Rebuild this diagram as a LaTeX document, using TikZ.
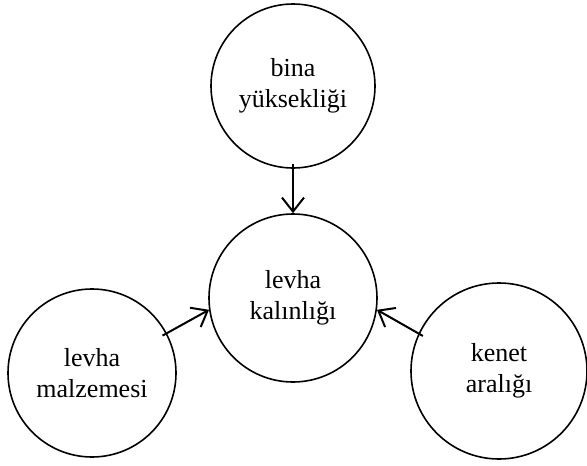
\documentclass[tikz,border=0pt]{standalone}
\usepackage{fontspec}
\setmainfont{Liberation Serif}
\usetikzlibrary{arrows.meta, positioning}

\tikzset{
  blob/.style={draw, circle, line width=1.6pt, inner sep=0pt, align=center,
    font=\fontsize{26}{31}\selectfont},
  link/.style={-{Straight Barb[length=14pt, width=22pt, line width=2pt]},
    line width=2pt, shorten <=-5pt}
}

\begin{document}
\begin{tikzpicture}[x=1pt, y=-1pt]
\useasboundingbox (0,0) rectangle (587,466);
\node[blob, minimum size=164pt] (height) at (293,86) {bina\\yüksekliği};
\node[blob, minimum size=168pt] (thick) at (293,298) {levha\\kalınlığı};
\node[blob, minimum size=168pt] (mat) at (92,373) {levha\\malzemesi};
\node[blob, minimum size=176pt] (gap) at (499,371) {kenet\\aralığı};
\draw[link] (height.270) -- (thick.90);
\draw[link] (mat.28) -- (thick.188);
\draw[link] (gap.155) -- (thick.352);
\end{tikzpicture}
\end{document}
